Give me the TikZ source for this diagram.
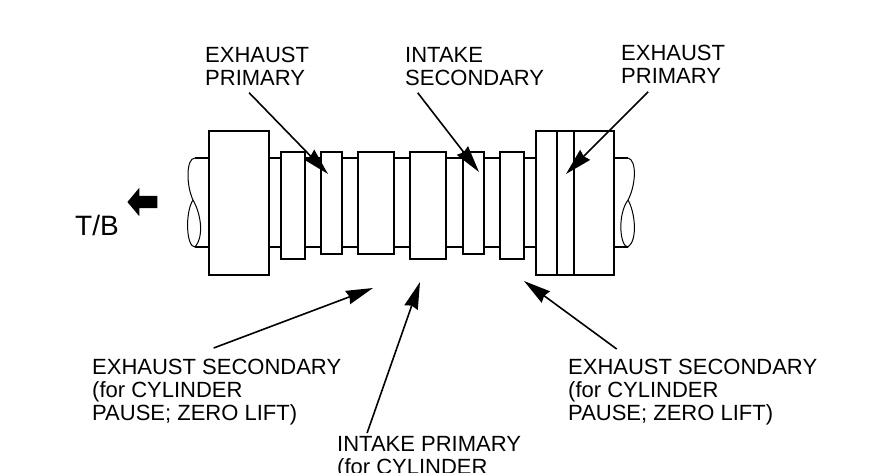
\documentclass[tikz,border=0pt]{standalone}
\usepackage{fontspec}
\setmainfont{Liberation Sans}
\usetikzlibrary{positioning}
\usetikzlibrary{arrows.meta}
\usetikzlibrary{shapes.arrows}
\tikzset{%
	% Specifications for style of nodes:
	camBase/.style = {rectangle, draw=black, fill=white, line width=2pt, inner sep=0pt},
	camWide/.style = {camBase, minimum width=60pt, minimum height=144pt},
	camTall/.style = {camBase, minimum width=24pt, minimum height=107pt},
	camMid/.style = {camBase, minimum width=36pt},
	camThin/.style = {camBase, minimum width=21pt, minimum height=102pt},
	label/.style = {inner sep=0pt, align=left, anchor=north west, font=\fontsize{22}{23}\selectfont},
	pointer/.style = {draw=black, line width=1.6pt, -{Stealth[length=27pt, width=14pt, inset=2pt]}},
	breakLine/.style = {draw=black, line width=1pt}
}
\begin{document}
\begin{tikzpicture}[x=1pt, y=-1pt]
		\useasboundingbox (0,0) rectangle (880,472);
		\clip (0,0) rectangle (880,472);
		% shaft
		\coordinate (shaftTL) at (195,158);
		\coordinate (shaftBL) at (195,247);
		\coordinate (shaftTR) at (628,158);
		\coordinate (shaftBR) at (628,247);
		\draw[line width=2pt] (shaftTL) -- (shaftTR);
		\draw[line width=2.8pt] (shaftBL) -- (shaftBR);
		% broken ends
		\draw[breakLine] (shaftTL) .. controls (186,158) and (186,185) .. (193,200)
			.. controls (200,212) and (205,235) .. (195,247)
			.. controls (186,247) and (185,212) .. (193,200);
		\draw[breakLine] (shaftTR) .. controls (637,160) and (636,185) .. (628,200)
			.. controls (635,212) and (638,240) .. (628,247)
			.. controls (620,247) and (617,215) .. (628,200);
		% cams
		\node (camA) [camWide] at (239,203) {};
		\node (camB) [camTall] at (293,205.5) {};
		\node (camC) [camThin] at (331.5,203) {};
		\node (camD) [camMid, minimum height=102pt] at (376,203) {};
		\node (camE) [camMid, minimum height=107pt] at (428,205.5) {};
		\node (camF) [camThin] at (473.5,203) {};
		\node (camG) [camTall] at (512,205.5) {};
		\node (camH) [camWide, minimum width=78pt] at (575,203) {};
		\draw[line width=2pt] (557,131) -- (557,275);
		\draw[line width=2pt] (574,131) -- (574,275);
		% labels
		\node (exhTopL) [label] at (205,47) {EXHAUST\\PRIMARY};
		\node (intTop) [label] at (405,47) {INTAKE\\SECONDARY};
		\node (exhTopR) [label] at (621,45) {EXHAUST\\PRIMARY};
		\node (exhBotL) [label] at (92,358.5) {EXHAUST SECONDARY\\(for CYLINDER\\PAUSE; ZERO LIFT)};
		\node (exhBotR) [label] at (568,358.5) {EXHAUST SECONDARY\\(for CYLINDER\\PAUSE; ZERO LIFT)};
		\node (intBot) [label] at (337,436) {INTAKE PRIMARY\\(for CYLINDER};
		\node (tb) [label, anchor=base west, font=\fontsize{28}{30}\selectfont] at (75,235.5) {T/B};
		\node (tbArrow) [single arrow, fill=black, inner xsep=0pt, inner ysep=6pt, minimum height=30pt,
			single arrow head extend=8pt, single arrow tip angle=100, shape border rotate=180] at (145,202) {};
		% pointers
		\coordinate (tipA) at (328,174);
		\coordinate (tipB) at (479,172);
		\coordinate (tipC) at (566,174);
		\coordinate (tipD) at (373,288);
		\coordinate (tipE) at (420,282);
		\coordinate (tipF) at (524,281);
		\draw[pointer] ([xshift=-8pt, yshift=-7pt]exhTopL.south) -- (tipA);
		\draw[pointer] ([xshift=-57pt, yshift=-7pt]intTop.south) -- (tipB);
		\draw[pointer] ([xshift=-25pt, yshift=-8pt]exhTopR.south) -- (tipC);
		\draw[pointer] ([xshift=-3pt, yshift=10.5pt]exhBotL.north) -- (tipD);
		\draw[pointer] ([xshift=-62pt, yshift=3pt]intBot.north) -- (tipE);
		\draw[pointer] ([xshift=-76pt, yshift=9.5pt]exhBotR.north) -- (tipF);
	\end{tikzpicture}
\end{document}
